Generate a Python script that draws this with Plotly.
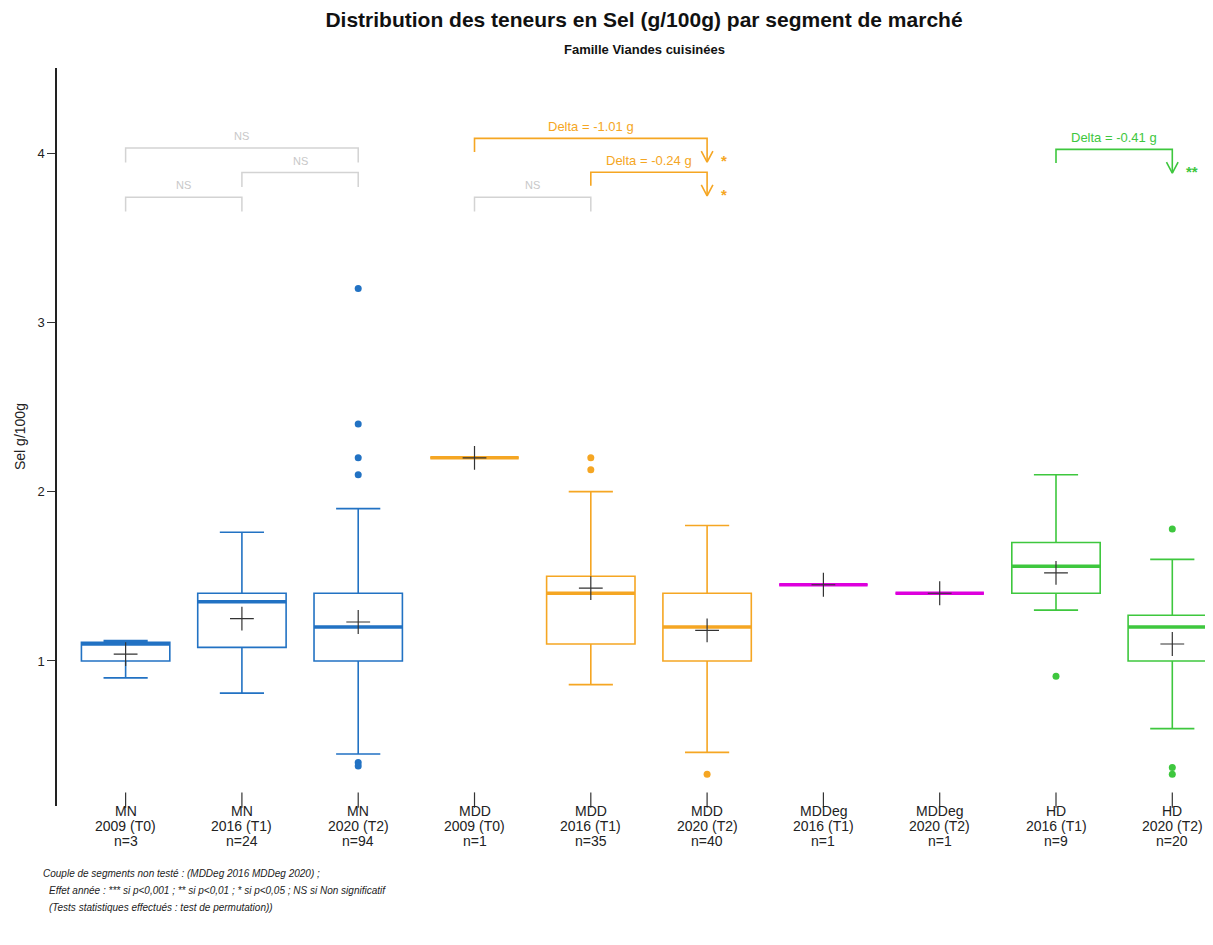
import plotly.graph_objects as go

# categories
groups = ["MN", "MN", "MN", "MDD", "MDD", "MDD", "MDDeg", "MDDeg", "HD", "HD"]
years = ["2009 (T0)", "2016 (T1)", "2020 (T2)", "2009 (T0)", "2016 (T1)", "2020 (T2)",
         "2016 (T1)", "2020 (T2)", "2016 (T1)", "2020 (T2)"]
counts = [3, 24, 94, 1, 35, 40, 1, 1, 9, 20]

# box statistics (Sel g/100g)
lower = [0.90, 0.81, 0.45, 2.20, 0.86, 0.46, 1.45, 1.40, 1.30, 0.60]
q1 = [1.00, 1.08, 1.00, 2.20, 1.10, 1.00, 1.45, 1.40, 1.40, 1.00]
median = [1.10, 1.35, 1.20, 2.20, 1.40, 1.20, 1.45, 1.40, 1.56, 1.20]
q3 = [1.11, 1.40, 1.40, 2.20, 1.50, 1.40, 1.45, 1.40, 1.70, 1.27]
upper = [1.12, 1.76, 1.90, 2.20, 2.00, 1.80, 1.45, 1.40, 2.10, 1.60]
means = [1.04, 1.25, 1.23, 2.20, 1.43, 1.18, 1.45, 1.40, 1.52, 1.10]
outliers = [[], [], [3.20, 2.40, 2.20, 2.10, 0.40, 0.38], [], [2.20, 2.13], [0.33],
            [], [], [0.91], [1.78, 0.37, 0.33]]

# significance brackets: (left, right, height)
ns_brackets = [(0, 1, 3.74), (1, 2, 3.885), (0, 2, 4.03), (3, 4, 3.74)]
delta_brackets = [(4, 5, 3.887), (3, 5, 4.087), (8, 9, 4.022)]
delta_labels = ["Delta = -0.24 g", "Delta = -1.01 g", "Delta = -0.41 g"]
delta_stars = ["*", "*", "**"]

colors = {"MN": "#2272c3", "MDD": "#f5a623", "MDDeg": "#dd00dd", "HD": "#3ec73e"}
GRAY = "#d3d3d3"
BOXW = 0.76
PLOT_W = 1156  # plot area width in px
Y_RANGE = [0.143, 4.503]
TICK_Y = 0.178  # level of the small x tick marks, just above the axis end

fig = go.Figure()

for i, g in enumerate(groups):
    c = colors[g]
    fig.add_trace(go.Box(
        x=[i], q1=[q1[i]], median=[median[i]], q3=[q3[i]],
        lowerfence=[lower[i]], upperfence=[upper[i]],
        width=BOXW, whiskerwidth=0.5, boxpoints=False,
        line=dict(color=c, width=1.6), fillcolor="rgba(0,0,0,0)",
        showlegend=False, hoverinfo="skip"))
    # thick median line
    fig.add_trace(go.Scatter(
        x=[i - BOXW / 2, i + BOXW / 2], y=[median[i], median[i]], mode="lines",
        line=dict(color=c, width=3.5), showlegend=False, hoverinfo="skip"))
    if outliers[i]:
        fig.add_trace(go.Scatter(
            x=[i] * len(outliers[i]), y=outliers[i], mode="markers",
            marker=dict(color=c, size=7), showlegend=False, hoverinfo="skip"))

# means
fig.add_trace(go.Scatter(
    x=list(range(len(groups))), y=means, mode="markers",
    marker=dict(symbol="cross-thin", size=17, line=dict(color="#333333", width=1.2)),
    showlegend=False, hoverinfo="skip"))

# x tick marks
fig.add_trace(go.Scatter(
    x=list(range(len(groups))), y=[TICK_Y] * len(groups), mode="markers",
    marker=dict(symbol="line-ns", size=11, line=dict(color="#333333", width=1.2)),
    cliponaxis=False, showlegend=False, hoverinfo="skip"))

# NS brackets
for a, b, h in ns_brackets:
    fig.add_trace(go.Scatter(
        x=[a, a, b, b], y=[h - 0.085, h, h, h - 0.085], mode="lines",
        line=dict(color=GRAY, width=1.5), showlegend=False, hoverinfo="skip"))
    fig.add_annotation(x=(a + b) / 2, y=h + 0.07, text="NS", showarrow=False,
                       font=dict(size=11, color="#c8c8c8"))

# Delta brackets with arrows
for (a, b, h), lab, st in zip(delta_brackets, delta_labels, delta_stars):
    c = colors[groups[b]]
    tip = h - 0.14
    fig.add_trace(go.Scatter(
        x=[a, a, b, b, None, b - 0.05, b, b + 0.05],
        y=[h - 0.08, h, h, tip, None, tip + 0.065, tip, tip + 0.065],
        mode="lines", line=dict(color=c, width=1.6),
        showlegend=False, hoverinfo="skip"))
    fig.add_annotation(x=(a + b) / 2, y=h + 0.07, text=lab, showarrow=False,
                       font=dict(size=13, color=c))
    fig.add_annotation(x=b + 0.1, y=tip + 0.01, text="<b>" + st + "</b>",
                       showarrow=False, xanchor="left", yanchor="middle",
                       font=dict(size=15, color=c))

# x labels, three rows
for i in range(len(groups)):
    for k, t in enumerate([groups[i], years[i], "n=" + str(counts[i])]):
        fig.add_annotation(x=i, xref="x", y=0, yref="paper", yshift=-5 - 15 * k,
                           text=t, showarrow=False, yanchor="middle",
                           font=dict(size=14, color="#222222"))

# footnotes
notes = ["Couple de segments non testé : (MDDeg 2016 MDDeg 2020) ;",
         "Effet année : *** si p<0,001 ; ** si p<0,01 ; * si p<0,05 ; NS si Non significatif",
         "(Tests statistiques effectués : test de permutation))"]
note_x = [41, 47, 47]
for k, (t, px) in enumerate(zip(notes, note_x)):
    fig.add_annotation(x=(px - 57) / PLOT_W, xref="paper", y=0, yref="paper",
                       yshift=-67 - 17 * k, xanchor="left", yanchor="middle",
                       text="<i>" + t + "</i>", showarrow=False,
                       font=dict(size=10, color="#222222"))

# subtitle and y title
fig.add_annotation(x=(644 - 57) / PLOT_W, xref="paper", y=1, yref="paper", yshift=19,
                   yanchor="middle", text="<b>Famille Viandes cuisinées</b>",
                   showarrow=False, font=dict(size=13, color="#111111"))
fig.add_annotation(x=(20 - 57) / PLOT_W, xref="paper", y=0.5, yref="paper",
                   xanchor="center", yanchor="middle",
                   text="Sel g/100g", textangle=-90, showarrow=False,
                   font=dict(size=14, color="#222222"))

# the page has an 8px body margin, so the figure is shifted by 8px
fig.update_layout(
    width=1205, height=937,
    margin=dict(l=49, r=0, t=60, b=139),
    title=dict(text="<b>Distribution des teneurs en Sel (g/100g) par segment de marché</b>",
               x=636 / 1205, xanchor="center", y=1 - 12 / 937, yanchor="middle",
               font=dict(size=21, color="#111111")),
    font=dict(family="Liberation Sans, Arial, sans-serif"),
    plot_bgcolor="white", paper_bgcolor="white",
    xaxis=dict(range=[-0.59, 9.35], showticklabels=False, ticks="",
               showgrid=False, zeroline=False, showline=False),
    yaxis=dict(range=Y_RANGE, tickvals=[1, 2, 3, 4], ticks="outside", ticklen=8,
               tickcolor="#333333", showline=True, linecolor="#222222", linewidth=1.5,
               showgrid=False, zeroline=False, tickfont=dict(size=13, color="#222222")),
)

fig.write_html("out.html")
